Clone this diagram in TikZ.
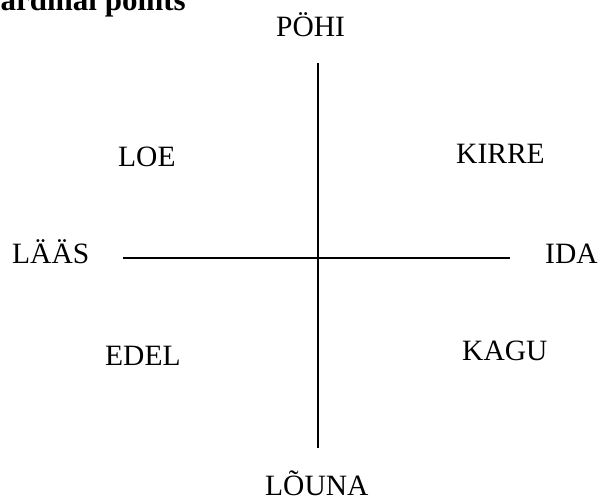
\documentclass[tikz,border=0pt]{standalone}
\usepackage{fontspec}
\setmainfont{Liberation Serif}
\begin{document}
\begin{tikzpicture}[x=1pt,y=-1pt,every node/.style={inner sep=0pt,anchor=base west,font=\fontsize{29.5}{34}\selectfont}]
						\useasboundingbox (0,0) rectangle (599,499);
						\clip (0,0) rectangle (599,499);
						\node (title) at (-22,10) {\fontsize{31}{36}\selectfont\bfseries Cardinal points};
						\coordinate (top) at (318,63);
						\coordinate (bottom) at (318,448);
						\coordinate (left) at (123,258);
						\coordinate (right) at (510,258);
						\draw[line width=2pt] (top) to (bottom);
						\draw[line width=2pt] (left) to (right);
						\node (pohi) at (276,36) {PÖHI};
						\node (louna) at (265,495) {LÕUNA};
						\node (laas) at (12,263) {LÄÄS};
						\node (ida) at (545,263) {IDA};
						\node (loe) at (118,166) {LOE};
						\node (kirre) at (456,163) {KIRRE};
						\node (edel) at (105,365) {EDEL};
						\node (kagu) at (462,360) {KAGU};
					\end{tikzpicture}
\end{document}
